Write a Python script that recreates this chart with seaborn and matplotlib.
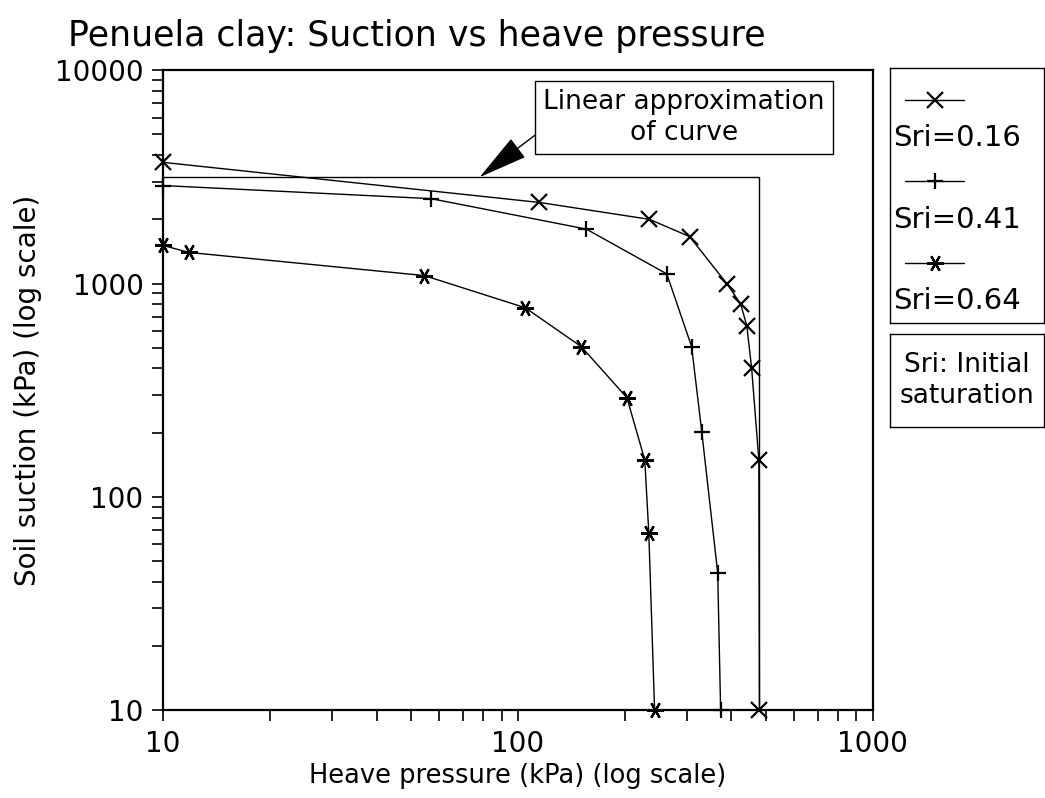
import pandas as pd
import matplotlib.pyplot as plt
import seaborn as sns
from matplotlib.ticker import LogLocator, FixedLocator, NullFormatter

# Data (heave pressure kPa, soil suction kPa)
labels = ['Sri=0.16', 'Sri=0.41', 'Sri=0.64']

x_016 = [10, 115, 235, 305, 390, 425, 442, 456, 478, 480]
y_016 = [3700, 2400, 2000, 1660, 990, 800, 635, 404, 149, 10]

x_041 = [10, 57, 156, 263, 309, 330, 366, 373]
y_041 = [2880, 2500, 1800, 1110, 506, 202, 44, 10]

x_064 = [10, 11.8, 54.5, 105, 151, 203, 228, 234, 243]
y_064 = [1510, 1400, 1090, 770, 506, 292, 149, 68, 10]

# linear approximation of the curve
approx_x = [10, 478, 478]
approx_y = [3150, 3150, 10]

# 6-arm asterisk with a horizontal arm for the last series
markers = {'Sri=0.16': 'x', 'Sri=0.41': '+', 'Sri=0.64': (6, 2, 90)}

df = pd.concat([
    pd.DataFrame({'pressure': x_016, 'suction': y_016, 'series': labels[0]}),
    pd.DataFrame({'pressure': x_041, 'suction': y_041, 'series': labels[1]}),
    pd.DataFrame({'pressure': x_064, 'suction': y_064, 'series': labels[2]}),
])

sns.set_style('ticks', rc={'text.color': 'black', 'axes.labelcolor': 'black',
                           'xtick.color': 'black', 'ytick.color': 'black',
                           'axes.edgecolor': 'black'})
plt.rcParams['font.family'] = ['DejaVu Sans']

fig = plt.figure(figsize=(10.45, 7.98), dpi=100)
ax = fig.add_axes([0.156, 0.110, 0.679, 0.802])

sns.lineplot(data=df, x='pressure', y='suction', hue='series', style='series',
             markers=markers, dashes=False, palette=['black'] * 3, sort=False,
             estimator=None, legend=False, lw=1.0, markersize=12,
             markeredgewidth=1.6, markeredgecolor='black', clip_on=False,
             zorder=3, ax=ax)

ax.plot(approx_x, approx_y, color='black', lw=1.0)

ax.set_xscale('log')
ax.set_yscale('log')
ax.set_xlim(10, 1000)
ax.set_ylim(10, 10000)
ax.xaxis.set_major_locator(FixedLocator([10, 100, 1000]))
ax.yaxis.set_major_locator(FixedLocator([10, 100, 1000, 10000]))
ax.set_xticklabels(['10', '100', '1000'])
ax.set_yticklabels(['10', '100', '1000', '10000'])
ax.xaxis.set_minor_locator(LogLocator(base=10, subs=range(2, 10)))
ax.yaxis.set_minor_locator(LogLocator(base=10, subs=range(2, 10)))
ax.xaxis.set_minor_formatter(NullFormatter())
ax.yaxis.set_minor_formatter(NullFormatter())
ax.tick_params(which='both', direction='out', length=8, width=1.2)
ax.tick_params(which='major', labelsize=20, pad=6)
for s in ax.spines.values():
    s.set_linewidth(1.6)

ax.set_xlabel('Heave pressure (kPa) (log scale)', fontsize=18.5, labelpad=4)
ax.set_ylabel('Soil suction (kPa) (log scale)', fontsize=20, labelpad=9)

fig.text(0.065, 0.955, 'Penuela clay: Suction vs heave pressure', fontsize=25,
         va='center', ha='left')

ax.annotate('Linear approximation\nof curve', xy=(78, 3150), xytext=(294, 6000),
            fontsize=19, ha='center', va='center', linespacing=1.25,
            bbox=dict(boxstyle='square,pad=0.3', fc='white', ec='black', lw=1.0),
            arrowprops=dict(arrowstyle='-|>,head_length=1.6,head_width=0.38',
                            fc='black', ec='black', lw=1.0, mutation_scale=20,
                            relpos=(0, 0.3), shrinkA=0, shrinkB=0))

# legend box: line sample above its label
lax = fig.add_axes([890 / 1045, 1 - 323 / 798, 154 / 1045, 255 / 798])
lax.set_xlim(0, 1)
lax.set_ylim(0, 1)
lax.set_xticks([])
lax.set_yticks([])
for s in lax.spines.values():
    s.set_linewidth(1.0)
for i, lab in enumerate(labels):
    top = 0.875 - i * 0.32
    lax.plot([0.10, 0.29, 0.48], [top, top, top], color='black', lw=1.0,
             marker=markers[lab], markevery=[1], ms=12, mew=1.6)
    lax.text(0.02, top - 0.15, lab, fontsize=21, va='center', ha='left')

# note box
nax = fig.add_axes([890 / 1045, 1 - 427 / 798, 154 / 1045, 93 / 798])
nax.set_xticks([])
nax.set_yticks([])
for s in nax.spines.values():
    s.set_linewidth(1.0)
nax.text(0.5, 0.5, 'Sri: Initial\nsaturation', fontsize=19, ha='center',
         va='center', linespacing=1.25, transform=nax.transAxes)

plt.savefig('out.png', dpi=100)
